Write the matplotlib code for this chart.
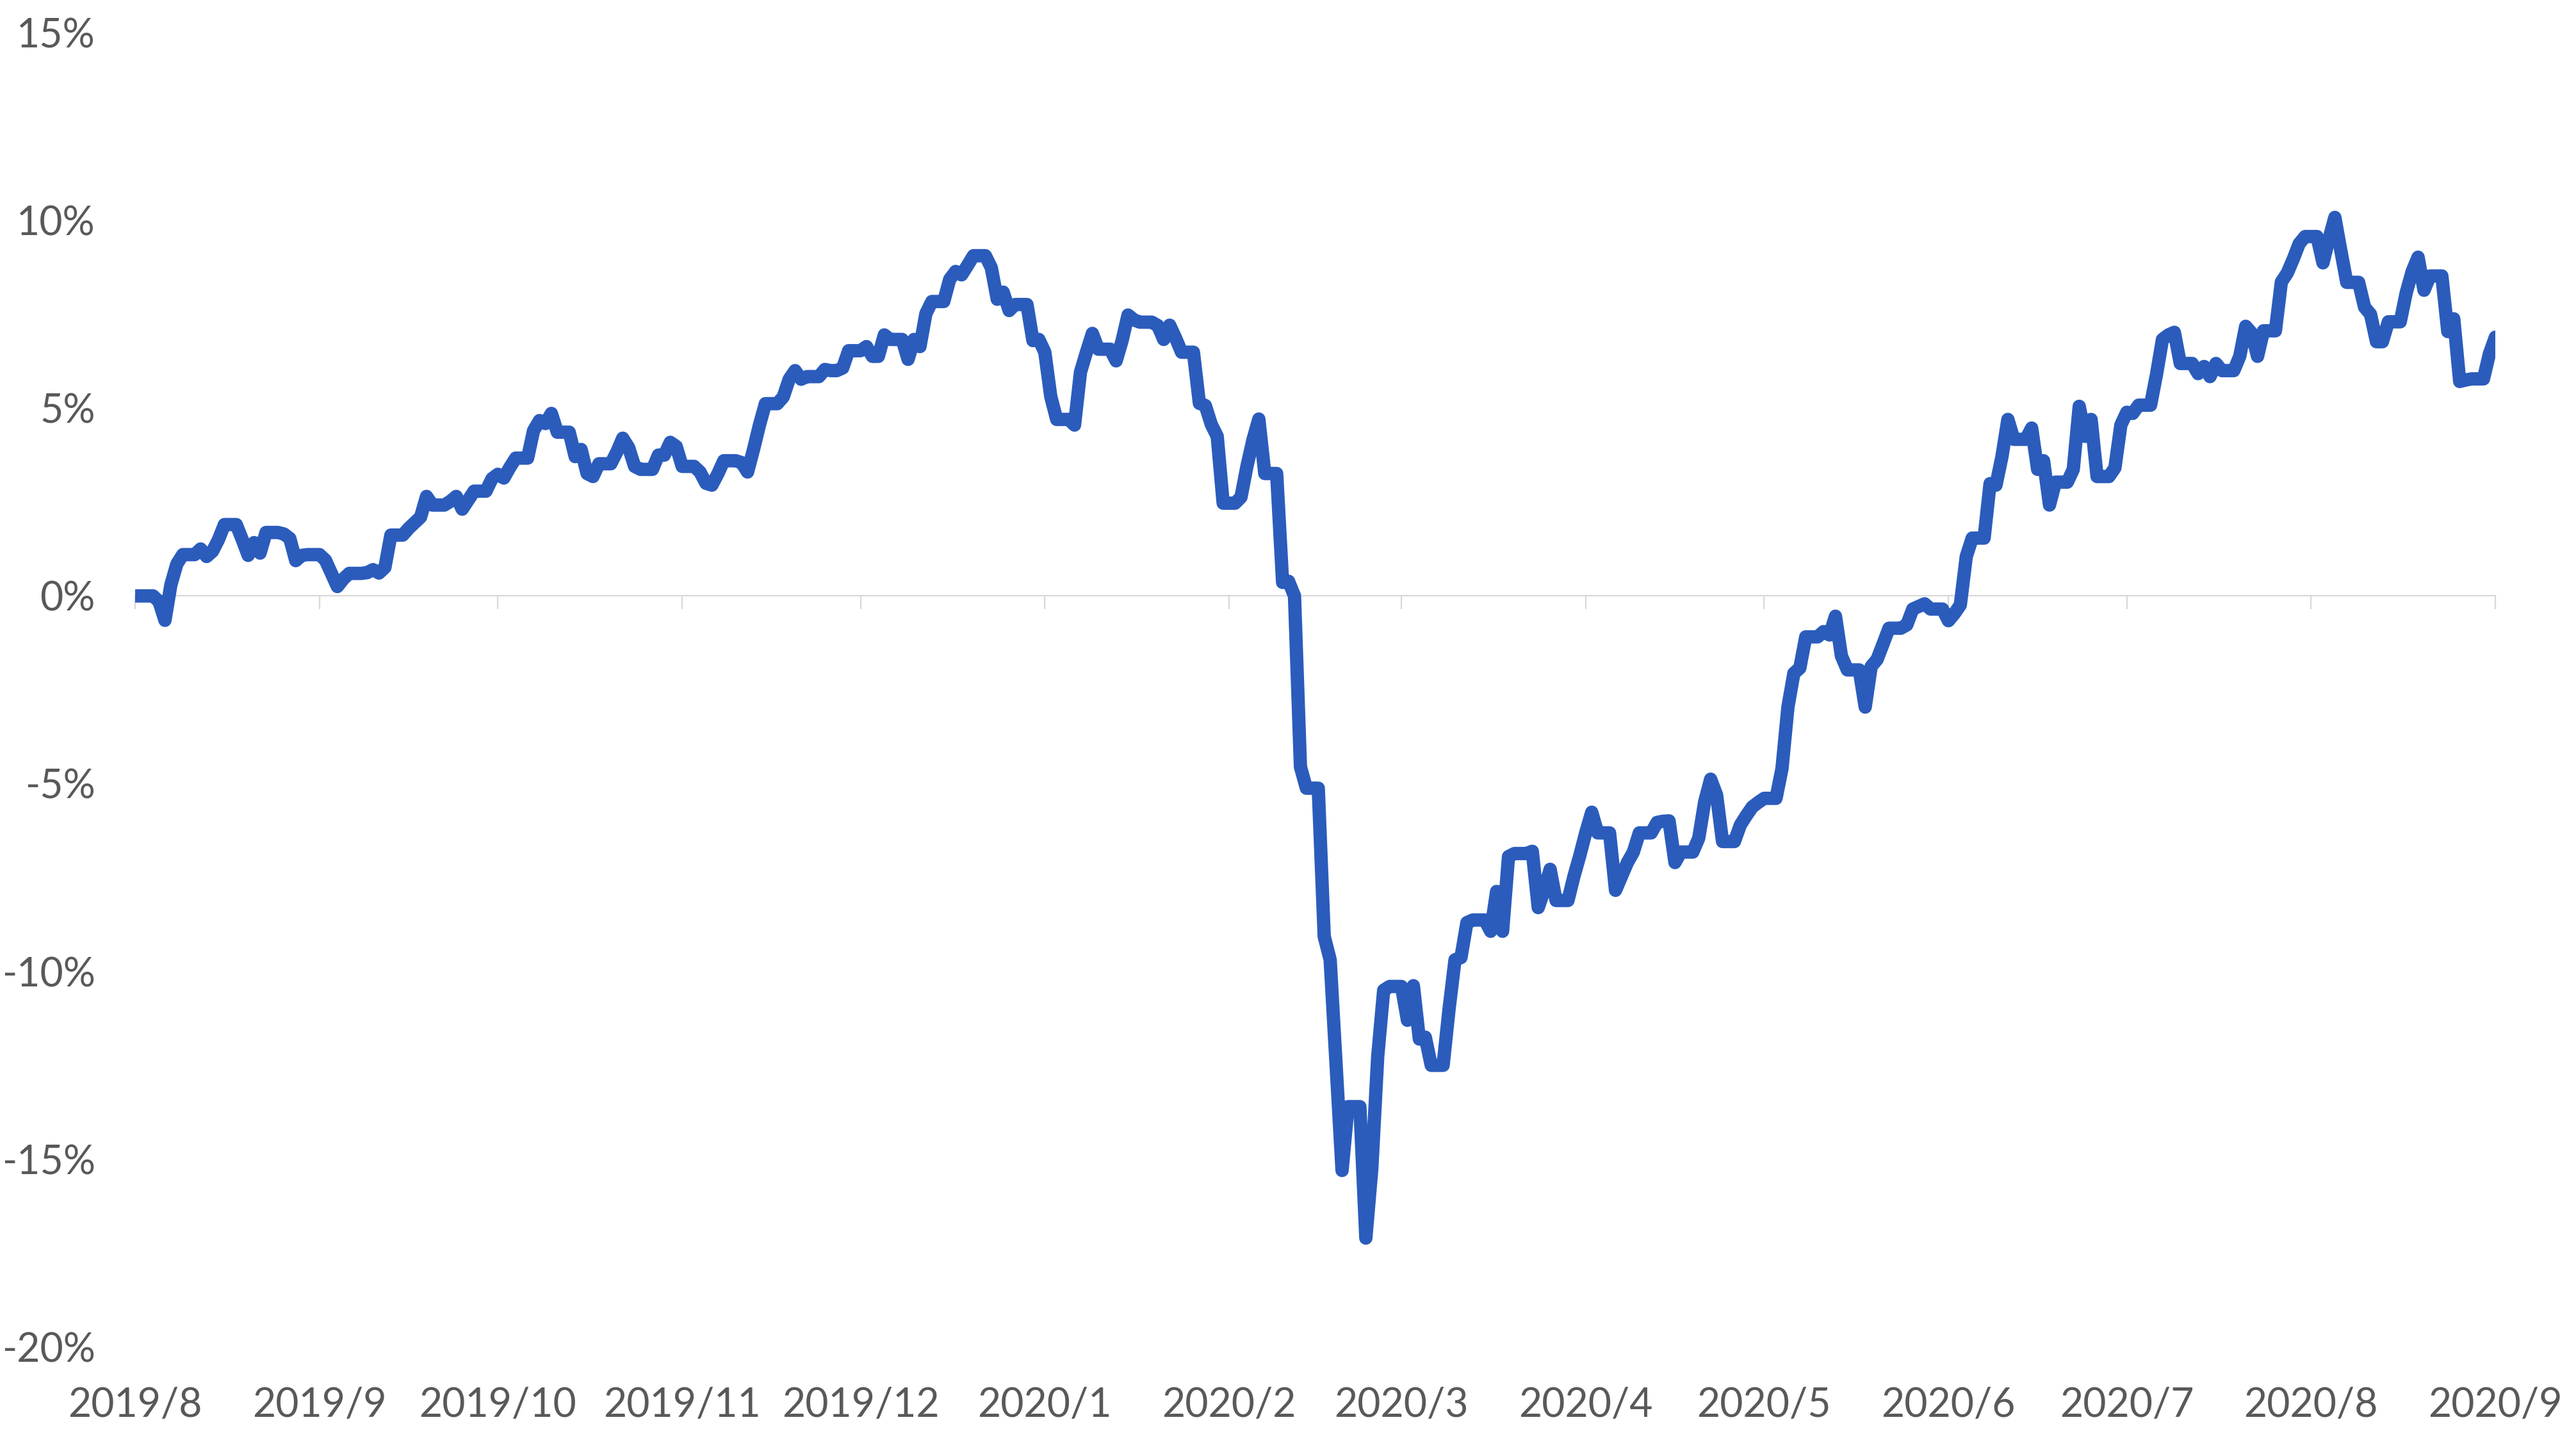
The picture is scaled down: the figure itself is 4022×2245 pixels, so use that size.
# Cumulative return line, Aug 2019 - Sep 2020 (Excel-style line chart)
# Values are weekday readings in %, weekends repeat Friday's value.

import matplotlib
matplotlib.use("Agg")
import matplotlib.pyplot as plt
import matplotlib.dates as mdates
from matplotlib.ticker import FuncFormatter, MultipleLocator
import numpy as np
import pandas as pd

FONTSIZE = 22.5
LINE_COLOR = "#2B5CBC"
TEXT_COLOR = "#595959"
AXIS_COLOR = "#D9D9D9"

# weekday values (%) per month
aug19 = [0.0, 0.0,
         -0.15, -0.65, 0.3, 0.85, 1.1,
         1.25, 1.05, 1.19, 1.5, 1.9,
         1.5, 1.08, 1.42, 1.14, 1.69,
         1.65, 1.53, 0.94, 1.08, 1.1]
sep19 = [0.95, 0.6, 0.25, 0.45, 0.6,
         0.62, 0.7, 0.61, 0.76, 1.62,
         1.8, 1.95, 2.1, 2.65, 2.42,
         2.52, 2.65, 2.31, 2.55, 2.79,
         3.12]
oct19 = [3.24, 3.14, 3.42, 3.67,
         4.4, 4.67, 4.59, 4.86, 4.36,
         3.71, 3.9, 3.26, 3.18, 3.52,
         3.83, 4.2, 3.95, 3.45, 3.37,
         3.75, 3.75, 4.09, 3.98]
nov19 = [3.45,
         3.3, 3.0, 2.95, 3.25, 3.6,
         3.55, 3.3, 3.9, 4.55, 5.12,
         5.3, 5.77, 6.0, 5.77, 5.84,
         6.03, 6.0, 6.0, 6.07, 6.53]
dec19 = [6.64, 6.38, 6.38, 6.95, 6.83,
         6.3, 6.83, 6.64, 7.52, 7.84,
         8.43, 8.64, 8.55, 8.8, 9.06,
         8.74, 7.9, 8.09, 7.6, 7.76,
         6.8, 6.83]
jan20 = [6.49, 5.31, 4.7,
         4.55, 5.96, 6.49, 6.99, 6.57,
         6.26, 6.8, 7.48, 7.35, 7.29,
         7.2, 6.83, 7.21, 6.87, 6.49,
         5.13, 5.07, 4.57, 4.25, 2.47]
feb20 = [2.63, 3.45, 4.15, 4.71, 3.26,
         0.36, 0.39, 0.0, -4.55, -5.12,
         -9.07, -9.69, -12.5, -15.3, -13.6,
         -17.1, -15.26, -12.26, -10.5, -10.4]
mar20 = [-11.3, -10.38, -11.8, -11.75, -12.5,
         -11.0, -9.69, -9.63, -8.7, -8.63,
         -8.93, -7.87, -8.93, -6.94, -6.86,
         -6.8, -8.3, -7.84, -7.28, -8.11,
         -7.47, -6.91]
apr20 = [-6.3, -5.76, -6.31,
         -7.84, -7.47, -7.1, -6.82, -6.31,
         -6.03, -6.0, -5.99, -7.1, -6.82,
         -6.45, -5.48, -4.88, -5.3, -6.54,
         -6.1, -5.85, -5.62, -5.5]
may20 = [-5.39,
         -4.6, -2.96, -2.06, -1.92, -1.09,
         -0.95, -1.04, -0.54, -1.6, -1.97,
         -2.96, -1.88, -1.69, -1.28, -0.86,
         -0.77, -0.35, -0.28, -0.21, -0.35]
jun20 = [-0.66, -0.47, -0.24, 1.05, 1.54,
         2.99, 2.95, 3.71, 4.7, 4.17,
         4.47, 3.37, 3.6, 2.42, 3.03,
         3.37, 5.05, 4.25, 4.7, 3.18,
         3.41, 4.55]
jul20 = [4.89, 4.86, 5.08,
         5.9, 6.83, 6.95, 7.02, 6.19,
         5.92, 6.11, 5.84, 6.19, 6.0,
         6.38, 7.18, 7.0, 6.38, 7.06,
         8.36, 8.6, 8.97, 9.38, 9.57]
aug20 = [8.87, 9.5, 10.08, 9.2, 8.35,
         7.69, 7.5, 6.77, 6.77, 7.3,
         8.07, 8.64, 9.02, 8.14, 8.52,
         7.04, 7.38, 5.71, 5.75, 5.78,
         6.45]
sep20 = [6.89]

values = np.concatenate([aug19, sep19, oct19, nov19, dec19, jan20, feb20,
                         mar20, apr20, may20, jun20, jul20, aug20, sep20])
trade_days = pd.bdate_range("2019-08-01", "2020-09-01")
assert len(trade_days) == len(values)
# daily series: weekends hold the previous Friday's value
series = pd.Series(values, index=trade_days).asfreq("D").ffill()

plt.rcParams["font.family"] = ["Lato", "DejaVu Sans"]
plt.rcParams["axes.unicode_minus"] = False

fig = plt.figure(figsize=(20.11, 11.225), dpi=200)
ax = fig.add_axes([0.0525, 0.0633, 0.9162, 0.914])

ax.plot(series.index, series.values, color=LINE_COLOR, linewidth=7.5,
        solid_joinstyle="round", solid_capstyle="round", zorder=3)

ax.set_xlim(pd.Timestamp("2019-08-01"), pd.Timestamp("2020-09-01"))
ax.set_ylim(-20, 15)

# y axis: labels only
ax.yaxis.set_major_locator(MultipleLocator(5))
ax.yaxis.set_major_formatter(FuncFormatter(lambda v, p: f"{int(round(v))}%"))
ax.tick_params(axis="y", length=0, pad=22.5, labelsize=FONTSIZE, labelcolor=TEXT_COLOR)

for side in ["left", "right", "top"]:
    ax.spines[side].set_visible(False)

# horizontal axis line at 0 with month tick marks
ax.spines["bottom"].set_position(("data", 0))
ax.spines["bottom"].set_color(AXIS_COLOR)
ax.spines["bottom"].set_linewidth(0.8)
ax.xaxis.set_major_locator(mdates.MonthLocator())
ax.tick_params(axis="x", direction="out", length=7.5, width=0.8,
               color=AXIS_COLOR, labelbottom=False)

# month labels at the bottom of the plot
def month_label(x, pos):
    d = mdates.num2date(x)
    return f"{d.year}/{d.month}"

sec = ax.secondary_xaxis(0)
sec.xaxis.set_major_locator(mdates.MonthLocator())
sec.xaxis.set_major_formatter(FuncFormatter(month_label))
sec.spines["bottom"].set_visible(False)
sec.tick_params(axis="x", length=0, pad=22.5, labelsize=FONTSIZE, labelcolor=TEXT_COLOR)

fig.savefig("out.png", dpi=200)
